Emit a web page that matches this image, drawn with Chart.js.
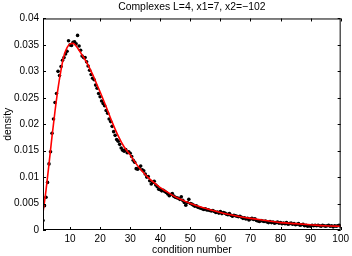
<!DOCTYPE html>
<html>
<head>
<meta charset="utf-8">
<script src="https://cdn.jsdelivr.net/npm/chart.js@4/dist/chart.umd.min.js"></script>
<style>
  html, body { margin: 0; padding: 0; background: #fff; }
  canvas { display: block; }
</style>
</head>
<body>
<canvas id="chart" width="352" height="256"></canvas>
<script>
// histogram dots, one every 0.5 from 1 to 100
const dotStart = 1;
const dotStep = 0.5;
const dotY = [
  0.0018, 0.0046, 0.0062, 0.0090, 0.0125, 0.0148, 0.0183, 0.0210, 0.0241, 0.0258,
  0.0300, 0.0292, 0.0309, 0.0321, 0.0326, 0.0333, 0.0338, 0.0358, 0.0350, 0.0349,
  0.0355, 0.0356, 0.0352, 0.0368, 0.0348, 0.0340, 0.0329, 0.0326, 0.0326, 0.0318,
  0.0310, 0.0302, 0.0294, 0.0287, 0.0284, 0.0274, 0.0268, 0.0258, 0.0252, 0.0244,
  0.0239, 0.0235, 0.0226, 0.0221, 0.0210, 0.0205, 0.0196, 0.0186, 0.0179, 0.0171,
  0.0168, 0.0162, 0.0155, 0.0151, 0.0149, 0.0152, 0.0146, 0.0148, 0.0145, 0.0139,
  0.0132, 0.0128, 0.0116, 0.0115, 0.0118, 0.0121, 0.0114, 0.0112, 0.0106, 0.0100,
  0.0101, 0.0093, 0.0087, 0.0090, 0.0092, 0.0085, 0.0082, 0.0077, 0.0076, 0.0074,
  0.0075, 0.0073, 0.0071, 0.0068, 0.0065, 0.0067, 0.0069, 0.0064, 0.0062, 0.0061,
  0.0060, 0.0058, 0.0063, 0.0056, 0.0052, 0.0047, 0.0052, 0.0058, 0.0050, 0.0049,
  0.0047, 0.0045, 0.0046, 0.0043, 0.0042, 0.0041, 0.0040, 0.0039, 0.0040, 0.0038,
  0.0038, 0.0037, 0.0036, 0.0037, 0.0035, 0.0033, 0.0034, 0.0032, 0.0035, 0.0031,
  0.0033, 0.0032, 0.0030, 0.0029, 0.0031, 0.0028, 0.0026, 0.0028, 0.0027, 0.0026,
  0.0025, 0.0026, 0.0024, 0.0022, 0.0023, 0.0021, 0.0022, 0.0019, 0.0021, 0.0022,
  0.0020, 0.0021, 0.0018, 0.0017, 0.0016, 0.0018, 0.0017, 0.0016, 0.0017, 0.0015,
  0.0014, 0.0016, 0.0014, 0.0015, 0.0013, 0.0014, 0.0015, 0.0013, 0.0014, 0.0012,
  0.0013, 0.0012, 0.0014, 0.0011, 0.0012, 0.0013, 0.0011, 0.0012, 0.0010, 0.0011,
  0.0012, 0.0009, 0.0010, 0.0011, 0.0008, 0.0009, 0.0007, 0.0008, 0.0007, 0.0009,
  0.0008, 0.0009, 0.0008, 0.0009, 0.0008, 0.0007, 0.0009, 0.0008, 0.0007, 0.0008,
  0.0009, 0.0007, 0.0008, 0.0006, 0.0008, 0.0007, 0.0008, 0.0009, 0.0007
];

// fitted density (red curve)
const fitX = [1, 2, 3, 4, 5, 6, 7, 8, 9, 10, 11, 12, 13, 14, 15, 16, 17, 18, 19, 20,
  22, 24, 26, 28, 30, 32, 34, 36, 38, 40, 42, 44, 46, 48, 50,
  55, 60, 65, 70, 75, 80, 85, 90, 95, 100];
const fitY = [0.0033, 0.0075, 0.0125, 0.0177, 0.0225, 0.0268, 0.0303, 0.0330, 0.0345, 0.0352,
  0.0353, 0.0348, 0.0340, 0.0331, 0.0322, 0.0312, 0.0300, 0.0288, 0.0274, 0.0261,
  0.0233, 0.0204, 0.0178, 0.0157, 0.0142, 0.0125, 0.0111, 0.0099, 0.0089, 0.0080,
  0.0073, 0.0066, 0.0060, 0.0055, 0.0050,
  0.0041, 0.0033, 0.0027, 0.0022, 0.0018, 0.0014, 0.0012, 0.0010, 0.0008, 0.0007];

const xTicks = [10, 20, 30, 40, 50, 60, 70, 80, 90, 100];
const yTicks = [0, 0.005, 0.01, 0.015, 0.02, 0.025, 0.03, 0.035, 0.04];

const fontFamily = '"Liberation Sans", Arial, Helvetica, sans-serif';

// matlab-like box with inward ticks
const boxPlugin = {
    id: 'box',
    afterDraw(chart) {
        const ctx = chart.ctx;
        const a = chart.chartArea;
        const x = chart.scales.x;
        const y = chart.scales.y;
        ctx.save();
        ctx.strokeStyle = '#000';
        ctx.lineWidth = 1;
        ctx.strokeRect(a.left + 0.5, a.top + 0.5, a.right - a.left - 1, a.bottom - a.top - 1);
        ctx.beginPath();
        x.ticks.forEach(t => {
            const px = Math.round(x.getPixelForValue(t.value)) + 0.5;
            ctx.moveTo(px, a.bottom);
            ctx.lineTo(px, a.bottom - 3);
            ctx.moveTo(px, a.top);
            ctx.lineTo(px, a.top + 3);
        });
        y.ticks.forEach(t => {
            const py = Math.round(y.getPixelForValue(t.value)) + 0.5;
            ctx.moveTo(a.left, py);
            ctx.lineTo(a.left + 3, py);
            ctx.moveTo(a.right, py);
            ctx.lineTo(a.right - 3, py);
        });
        ctx.stroke();
        ctx.restore();
    }
};

const dots = dotY.map((v, i) => ({ x: dotStart + i * dotStep, y: v }));
const fit = fitX.map((v, i) => ({ x: v, y: fitY[i] }));

new Chart(document.getElementById('chart'), {
    type: 'scatter',
    data: {
        datasets: [
            {
                label: 'fit',
                data: fit,
                showLine: true,
                borderColor: '#ff0000',
                borderWidth: 1.6,
                pointRadius: 0,
                cubicInterpolationMode: 'monotone',
                order: 0
            },
            {
                label: 'data',
                data: dots,
                pointRadius: 1.8,
                pointBackgroundColor: '#000',
                pointBorderWidth: 0,
                order: 1
            }
        ]
    },
    options: {
        responsive: false,
        animation: false,
        layout: { padding: { left: 0, right: 9, top: 0, bottom: 0 } },
        plugins: {
            legend: { display: false },
            tooltip: { enabled: false },
            title: {
                display: true,
                fullSize: false,
                text: 'Complexes L=4, x1=7, x2=\u2212102',
                color: '#000',
                font: { family: fontFamily, size: 10.4, weight: 'normal' },
                padding: { top: 1, bottom: 5 }
            }
        },
        scales: {
            x: {
                type: 'linear',
                min: 1,
                max: 100,
                afterBuildTicks: s => { s.ticks = xTicks.map(v => ({ value: v })); },
                afterFit: s => { s.height = 26; },
                grid: { display: false, drawTicks: false },
                border: { display: false },
                ticks: {
                    color: '#000',
                    font: { family: fontFamily, size: 10 },
                    padding: 3,
                    maxRotation: 0
                },
                title: {
                    display: true,
                    text: 'condition number',
                    color: '#000',
                    font: { family: fontFamily, size: 10.4 },
                    padding: 0
                }
            },
            y: {
                min: 0,
                max: 0.04,
                afterBuildTicks: s => { s.ticks = yTicks.map(v => ({ value: v })); },
                afterFit: s => { s.width = 43; },
                grid: { display: false, drawTicks: false },
                border: { display: false },
                ticks: {
                    color: '#000',
                    font: { family: fontFamily, size: 10 },
                    padding: 4,
                    callback: v => String(+v.toFixed(3))
                },
                title: {
                    display: true,
                    text: 'density',
                    color: '#000',
                    font: { family: fontFamily, size: 10.4 },
                    padding: { top: 2, bottom: 0 }
                }
            }
        }
    },
    plugins: [boxPlugin]
});
</script>
</body>
</html>
